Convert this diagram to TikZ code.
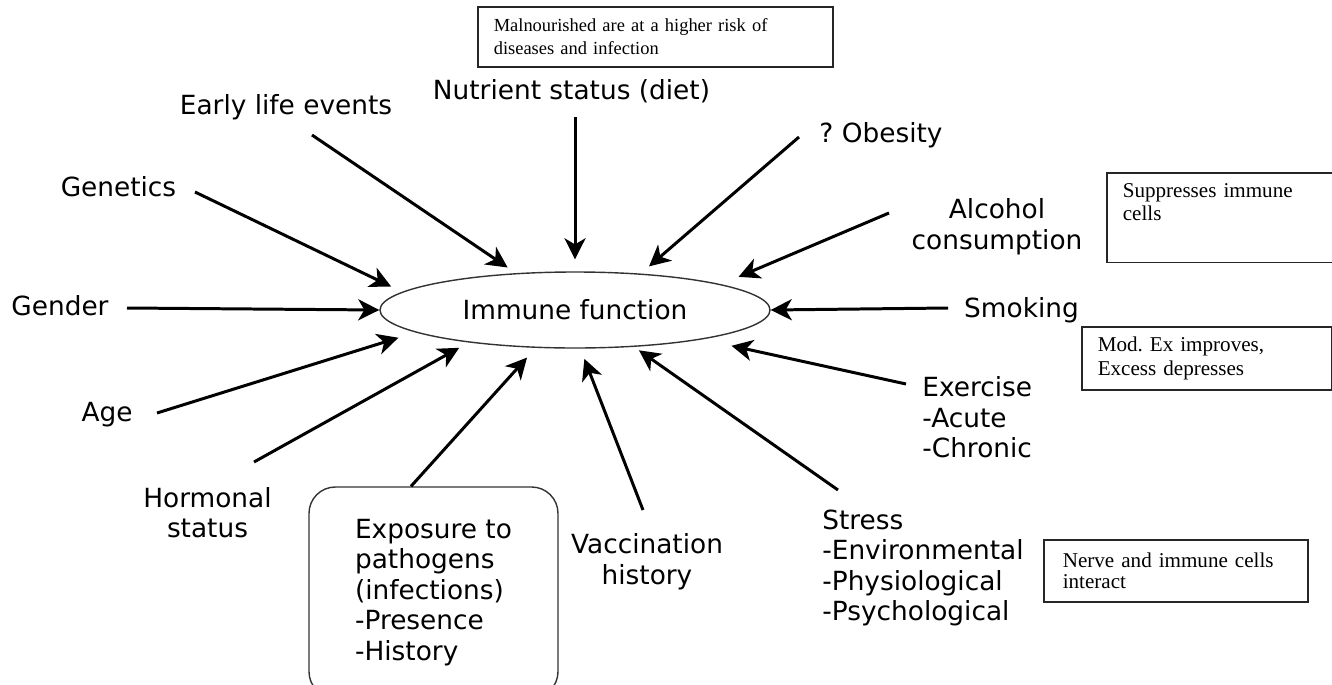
\documentclass[tikz,border=0pt]{standalone}
\usepackage{fontspec}
\usepackage{tikz}
\usetikzlibrary{arrows.meta, shapes.geometric}
\newfontfamily\factorfont{DejaVu Sans}
\newfontfamily\notefont{Liberation Serif}

\begin{document}
\frenchspacing
\begin{tikzpicture}[
        factor/.style={font=\factorfont\fontsize{15}{17.4}\selectfont, inner sep=0pt},
        note/.style={draw=black!85, line width=0.9pt, anchor=north west, align=left,
                     font=\notefont\fontsize{12}{13}\selectfont, inner xsep=0.32cm, inner ysep=0pt},
        arrow/.style={-{Stealth[length=12pt, width=12pt, inset=3.5pt]}, line width=1.7pt}
    ]
        \useasboundingbox (0,0) rectangle (26.64,-13.68);

        \node[factor, ellipse, draw=black!80, line width=0.8pt, minimum width=7.8cm,
              minimum height=1.52cm] (imm) at (11.5,-6.2) {Immune function};

        % Facteurs autour
        \node[factor, anchor=base] (early) at (5.72,-2.28) {Early life events};
        \node[factor, anchor=base] (genetics) at (2.37,-3.92) {Genetics};
        \node[factor, anchor=base] (nutrient) at (11.43,-1.98) {Nutrient status (diet)};
        \node[factor, anchor=base] (obesity) at (17.62,-2.84) {? Obesity};
        \node[factor, align=center] (alcohol) at (19.94,-4.54) {Alcohol\\consumption};
        \node[factor, anchor=base] (smoking) at (20.43,-6.34) {Smoking};
        \node[factor, anchor=base] (gender) at (1.20,-6.30) {Gender};
        \node[factor, anchor=base] (age) at (2.14,-8.42) {Age};
        \node[factor, align=center] (hormonal) at (4.15,-10.25) {Hormonal\\status};
        \node[factor, align=center] (vaccin) at (12.94,-11.23) {Vaccination\\history};
        \node[factor, align=left, anchor=west] (exercise) at (18.44,-8.35) {Exercise\\-Acute\\-Chronic};
        \node[factor, align=left, anchor=west] (stress) at (16.44,-11.36)
            {Stress\\-Environmental\\-Physiological\\-Psychological};
        \node[factor, align=left, draw=black!80, line width=0.8pt, rounded corners=15pt,
              minimum width=4.98cm, minimum height=4.22cm] (expo) at (8.67,-11.85)
            {Exposure to\\pathogens\\(infections)\\-Presence\\-History};

        % Notes
        \node[note, text width=6.46cm, minimum height=1.2cm, font=\notefont\fontsize{10.5}{12.9}\selectfont]
            (malnut) at (9.54,-0.12) {Malnourished are at a higher risk of\\diseases and infection};
        \node[note, text width=4.26cm, inner ysep=6.3pt, text depth=30.4pt]
            (suppress) at (22.12,-3.44) {Suppresses immune\\cells};
        \node[note, text width=4.36cm, minimum height=1.26cm, font=\notefont\fontsize{12}{13.7}\selectfont]
            (modex) at (21.62,-6.52) {Mod. Ex improves,\\Excess depresses};
        \node[note, text width=4.52cm, inner xsep=0.38cm, minimum height=1.24cm, font=\notefont\fontsize{12}{12.5}\selectfont]
            (nerve) at (20.86,-10.78) {Nerve and immune cells\\interact};

        \coordinate (gen-t) at (3.90,-3.84);
        \coordinate (early-t) at (6.24,-2.70);
        \coordinate (nutr-t) at (11.50,-2.34);
        \coordinate (obes-t) at (15.98,-2.74);
        \coordinate (alc-t) at (17.78,-4.26);
        \coordinate (smok-t) at (18.96,-6.16);
        \coordinate (exer-t) at (18.12,-7.68);
        \coordinate (stress-t) at (16.76,-9.80);
        \coordinate (vacc-t) at (12.86,-10.20);
        \coordinate (horm-t) at (5.08,-9.24);
        \coordinate (age-t) at (3.14,-8.26);
        \coordinate (gend-t) at (2.54,-6.16);

        % Fleches vers l'ellipse
        \draw[arrow, shorten >=7pt] (gen-t) -- (imm.174.7);
        \draw[arrow, shorten >=5.7pt] (early-t) -- (imm.148.7);
        \draw[arrow, shorten >=6.8pt] (nutr-t) -- (imm.90);
        \draw[arrow, shorten >=6.2pt] (obes-t) -- (imm.29.4);
        \draw[arrow, shorten >=10.8pt] (alc-t) -- (imm.10.15);
        \draw[arrow] (smok-t) -- (imm.0);
        \draw[arrow, shorten >=17pt] (exer-t) -- (imm.-13.9);
        \draw[arrow, shorten >=3.4pt] (stress-t) -- (imm.-32.1);
        \draw[arrow, shorten >=6.2pt] (vacc-t) -- (imm.-82.3);
        \draw[arrow, shorten >=7.4pt] ([xshift=-0.45cm]expo.north) -- (imm.-136.7);
        \draw[arrow, shorten >=6.2pt] (horm-t) -- (imm.-163.75);
        \draw[arrow, shorten >=10.2pt] (age-t) -- (imm.-172.3);
        \draw[arrow] (gend-t) -- (imm.180);
    \end{tikzpicture}
\end{document}
